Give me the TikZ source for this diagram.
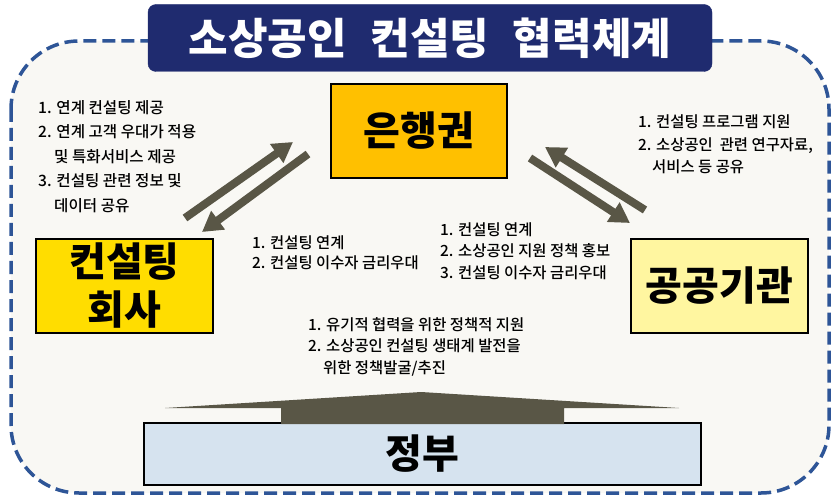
\documentclass[tikz,border=0pt]{standalone}
\usepackage{fontspec}
\setmainfont{Noto Sans CJK KR}
\newfontfamily\notefont{Noto Sans CJK KR Medium}
\usetikzlibrary{arrows.meta}

\definecolor{titlec}{HTML}{1F2B6F}
\definecolor{dashc}{HTML}{2E5597}
\definecolor{bgc}{HTML}{F9F8F4}
\definecolor{bankc}{HTML}{FFC000}
\definecolor{consc}{HTML}{FFDD00}
\definecolor{pubc}{HTML}{FFF6A0}
\definecolor{govc}{HTML}{D6E3EF}
\definecolor{arrowc}{HTML}{595646}

\begin{document}
\begin{tikzpicture}[x=1pt, y=-1pt,
        box/.style={draw, line width=1.2pt, inner sep=0pt, align=center, font=\bfseries\fontsize{40}{48}\selectfont},
        note/.style={anchor=north west, inner sep=0pt, align=left},
        fat/.style={line width=8pt, draw=arrowc, -{Triangle[length=20pt, width=22pt]}}]

        \useasboundingbox (0, 0) rectangle (839, 500);
        \fill[white] (0, 0) rectangle (839, 500);

        % frame
        \draw[line width=3.5pt, draw=dashc, fill=bgc, dash pattern=on 13pt off 6pt, rounded corners=68pt] (11, 41) rectangle (829, 493);

        % Nodes
        \node[fill=titlec, draw=titlec, rounded corners=8pt, minimum width=564pt, minimum height=67pt, text=white, font=\bfseries\fontsize{43}{50}\selectfont] at (430, 38) (title) {소상공인\hspace{0.55em}컨설팅\hspace{0.55em}협력체계};

        \node[box, fill=bankc, minimum width=176pt, minimum height=94pt] at (419, 131)  (bank)  {은행권};
        \node[box, fill=consc, minimum width=177pt, minimum height=94pt] at (124.5, 286)  (cons)  {컨설팅\\회사};
        \node[box, fill=pubc, minimum width=177pt, minimum height=94pt] at (719.5, 286)  (pub)  {공공기관};
        \node[box, fill=govc, minimum width=557pt, minimum height=62pt] at (422.5, 454)  (gov)  {정부};

        % notes
        \node[note, font=\notefont\fontsize{15.6}{24.5}\selectfont] at (38, 100) (nc) {1. 연계 컨설팅 제공\\2. 연계 고객 우대가 적용\\\hspace*{16pt}및 특화서비스 제공\\3. 컨설팅 관련 정보 및\\\hspace*{16pt}데이터 공유};
        \node[note, font=\notefont\fontsize{15.4}{22.5}\selectfont] at (638, 115) (np) {1. 컨설팅 프로그램 지원\\2. 소상공인\ \ 관련 연구자료,\\\hspace*{14pt}서비스 등 공유};
        \node[note, font=\notefont\fontsize{15.4}{20.5}\selectfont] at (252, 235) (ncb) {1. 컨설팅 연계\\2. 컨설팅 이수자 금리우대};
        \node[note, font=\notefont\fontsize{15.4}{21.5}\selectfont] at (440, 222) (npb) {1. 컨설팅 연계\\2. 소상공인 지원 정책 홍보\\3. 컨설팅 이수자 금리우대};
        \node[note, font=\notefont\fontsize{15.4}{21.5}\selectfont] at (308, 317) (ng) {1. 유기적 협력을 위한 정책적 지원\\2. 소상공인 컨설팅 생태계 발전을\\\hspace*{15pt}위한 정책발굴/추진};

        % arrow ends
        \coordinate (c1) at (185, 218);
        \coordinate (b1) at (293, 142);
        \coordinate (b2) at (308, 154);
        \coordinate (c2) at (202, 232);
        \coordinate (p1) at (645, 210);
        \coordinate (b3) at (545, 147);
        \coordinate (b4) at (530, 158);
        \coordinate (p2) at (630, 223);

        \draw[fat]  (c1) -- (b1);
        \draw[fat]  (b2) -- (c2);
        \draw[fat]  (p1) -- (b3);
        \draw[fat]  (b4) -- (p2);

        % up arrow from gov
        \fill[arrowc] (281, 424) -- (281, 408) -- (165, 408) -- (421, 392) -- (679, 408) -- (564, 408) -- (564, 424) -- cycle;

    \end{tikzpicture}
\end{document}
